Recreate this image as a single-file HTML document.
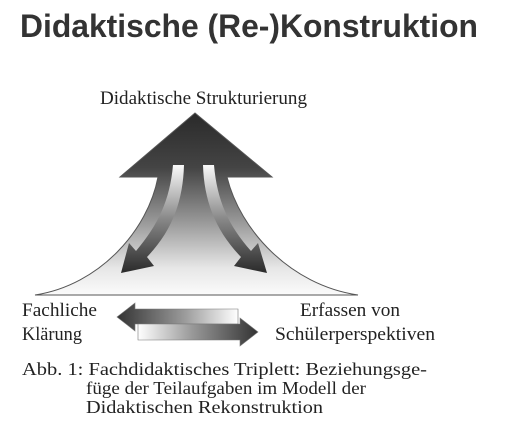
<!DOCTYPE html>
<html><head><style>html,body{margin:0;padding:0;background:#fff;width:510px;height:435px;overflow:hidden}</style></head><body>
<svg width="510" height="435" viewBox="0 0 510 435" xmlns="http://www.w3.org/2000/svg">
<defs>
<linearGradient id="big" x1="0" y1="0" x2="0" y2="1">
<stop offset="0" stop-color="#2a2a2a"/><stop offset="0.3" stop-color="#444"/><stop offset="0.6" stop-color="#999"/><stop offset="0.85" stop-color="#e6e6e6"/><stop offset="1" stop-color="#fbfbfb"/></linearGradient>
<linearGradient id="inA" x1="0" y1="0" x2="0" y2="1">
<stop offset="0" stop-color="#fafafa"/><stop offset="0.5" stop-color="#888"/><stop offset="1" stop-color="#2a2a2a"/></linearGradient>
<linearGradient id="hl" x1="0" y1="0" x2="1" y2="0">
<stop offset="0" stop-color="#333"/><stop offset="0.55" stop-color="#999"/><stop offset="1" stop-color="#fff"/></linearGradient>
<linearGradient id="hr" x1="0" y1="0" x2="1" y2="0">
<stop offset="0" stop-color="#fff"/><stop offset="0.45" stop-color="#999"/><stop offset="1" stop-color="#333"/></linearGradient>
</defs>
<text x="20" y="37" font-family="Liberation Sans, sans-serif" font-weight="bold" font-size="32" fill="#333" textLength="458" lengthAdjust="spacingAndGlyphs">Didaktische (Re-)Konstruktion</text>
<g font-family="Liberation Serif, serif" font-size="19" fill="#222">
<text x="100" y="104" textLength="207" lengthAdjust="spacingAndGlyphs">Didaktische Strukturierung</text>
<text x="22" y="316" textLength="75" lengthAdjust="spacingAndGlyphs">Fachliche</text>
<text x="22" y="340" textLength="60" lengthAdjust="spacingAndGlyphs">Klärung</text>
<text x="300" y="316" textLength="100" lengthAdjust="spacingAndGlyphs">Erfassen von</text>
<text x="275" y="340" textLength="160" lengthAdjust="spacingAndGlyphs">Schülerperspektiven</text>
<text x="22" y="375" font-size="18" textLength="405" lengthAdjust="spacingAndGlyphs">Abb. 1: Fachdidaktisches Triplett: Beziehungsge-</text>
<text x="86" y="394" font-size="18" textLength="280" lengthAdjust="spacingAndGlyphs">füge der Teilaufgaben im Modell der</text>
<text x="86" y="413" font-size="18" textLength="237" lengthAdjust="spacingAndGlyphs">Didaktischen Rekonstruktion</text>
</g>
<path d="M195,113 L272,177 L227,177 C240,230 290,285 358,295 L35,295 C100,285 148,230 158,177 L120,177 Z" fill="url(#big)" stroke="#555" stroke-width="1"/>
<path d="M173,165 L184,165 C183,200 173,230 147,257 L154,266 L121,273 L129,243 L136,251 C158,225 170,200 173,165 Z" fill="url(#inA)"/>
<path d="M203,165 L214,165 C217,200 228,225 251,251 L258,243 L267,273 L234,266 L241,257 C215,230 204,200 203,165 Z" fill="url(#inA)"/>
<path d="M117,317 L135,303 L135,309 L238,309 L238,324 L135,324 L135,331 Z" fill="url(#hl)" stroke="#777" stroke-width="0.6"/>
<path d="M258,332 L240,318 L240,324 L138,324 L138,340 L240,340 L240,346 Z" fill="url(#hr)" stroke="#777" stroke-width="0.6"/>
</svg>
</body></html>
